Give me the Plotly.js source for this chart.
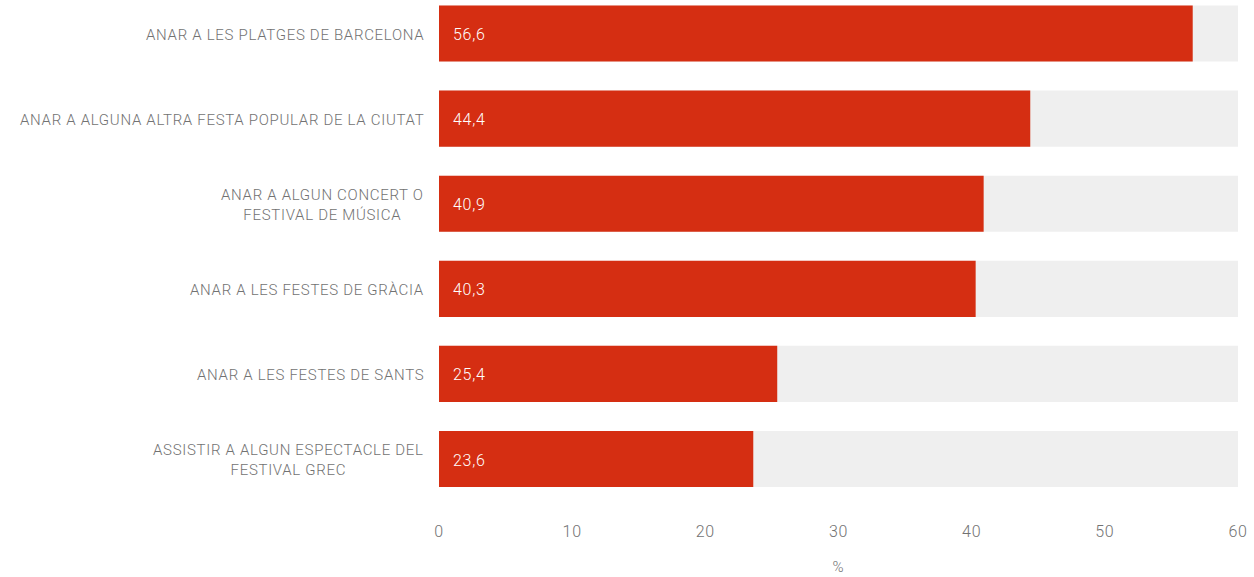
<!DOCTYPE html>
<html><head><meta charset="utf-8">
<script src="https://cdn.plot.ly/plotly-3.0.1.min.js"></script>
<style>html,body{margin:0;padding:0;background:#fff}#chart{width:1254px;height:577px}
text{letter-spacing:0.7px}
</style>
</head><body><div id="chart"></div>
<script>
var categories = [
  "ANAR A LES PLATGES DE BARCELONA",
  "ANAR A ALGUNA ALTRA FESTA POPULAR DE LA CIUTAT",
  "ANAR A ALGUN CONCERT O<br>FESTIVAL DE MÚSICA",
  "ANAR A LES FESTES DE GRÀCIA",
  "ANAR A LES FESTES DE SANTS",
  "ASSISTIR A ALGUN ESPECTACLE DEL<br>FESTIVAL GREC"
];
var values = [56.6, 44.4, 40.9, 40.3, 25.4, 23.6];
var maxValue = 60;
var xTicks = [0, 10, 20, 30, 40, 50, 60];

var fontFam = "Roboto, 'Liberation Sans', sans-serif";
var grey = "#727272";

var bg = {
  type: 'bar', orientation: 'h',
  y: categories, x: categories.map(function(){ return maxValue; }),
  marker: {color: '#efefef'}, width: 0.66, hoverinfo: 'skip', showlegend: false
};
var main = {
  type: 'bar', orientation: 'h',
  y: categories, x: values,
  marker: {color: '#d52e12'}, width: 0.66, showlegend: false
};

var annotations = [];
categories.forEach(function(c, i){
  annotations.push({
    xref: 'x', yref: 'y', x: 0, y: c, xanchor: 'left', yanchor: 'middle',
    xshift: 12, yshift: -1, text: values[i].toFixed(1).replace('.', ','), showarrow: false,
    font: {family: fontFam, size: 16, weight: 300, color: '#ffffff'}
  });
  annotations.push({
    xref: 'paper', yref: 'y', x: 0, y: c, xanchor: 'right', yanchor: 'middle',
    xshift: -13, yshift: -1, text: c, align: 'center', showarrow: false,
    font: {family: fontFam, size: 15, weight: 300, color: grey}
  });
});

var layout = {
  width: 1254, height: 577,
  margin: {l: 439, r: 16, t: 0, b: 62},
  paper_bgcolor: '#ffffff', plot_bgcolor: '#ffffff',
  barmode: 'overlay',
  separators: ',.',
  font: {family: fontFam, color: grey},
  xaxis: {
    range: [0, maxValue], tickvals: xTicks, showgrid: false, zeroline: false,
    showline: false, ticks: '', ticklabelstandoff: 5,
    tickfont: {size: 16, weight: 300, color: grey},
    title: {text: '%', font: {size: 15, weight: 300, color: grey}, standoff: 21}
  },
  yaxis: {
    type: 'category', categoryorder: 'array', categoryarray: categories,
    range: [5.658, -0.394], showticklabels: false, showgrid: false,
    zeroline: false, showline: false, ticks: ''
  },
  annotations: annotations
};

Plotly.newPlot('chart', [bg, main], layout, {displayModeBar: false, staticPlot: true});
</script></body></html>
